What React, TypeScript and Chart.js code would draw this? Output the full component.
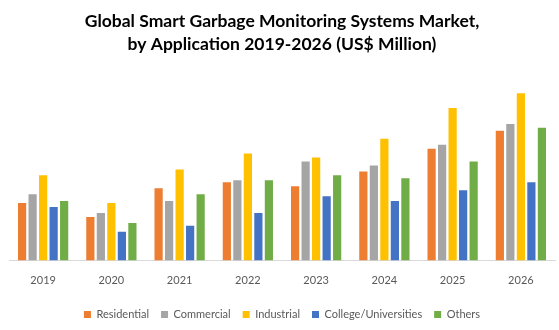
import React, { useEffect, useRef } from "react";
import { Chart, registerables } from "chart.js";

Chart.register(...registerables);

const years = ["2019", "2020", "2021", "2022", "2023", "2024", "2025", "2026"];
const residential = [58, 44, 73, 79, 75, 90, 113, 131];
const commercial = [67, 48, 60, 81, 100, 96, 117, 138];
const industrial = [86, 58, 92, 108, 104, 123, 154, 169];
const college = [54, 29, 35, 48, 65, 60, 71, 79];
const others = [60, 38, 67, 81, 86, 83, 100, 134];

const titleLines = [
  "Global Smart Garbage Monitoring Systems Market,",
  "by Application 2019-2026 (US$ Million)",
];

const FONT = "Lato, 'Liberation Sans', sans-serif";

export default function App() {
  const ref = useRef<HTMLCanvasElement>(null);
  useEffect(() => {
    document.body.style.margin = "0";
    const ctx = ref.current!;
    const chart = new Chart(ctx, {
      type: "bar",
      data: {
        labels: years,
        datasets: [
          { label: "Residential", data: residential, backgroundColor: "#ED7D31" },
          { label: "Commercial", data: commercial, backgroundColor: "#A5A5A5" },
          { label: "Industrial", data: industrial, backgroundColor: "#FFC000" },
          { label: "College/Universities", data: college, backgroundColor: "#4472C4" },
          { label: "Others", data: others, backgroundColor: "#70AD47" },
        ],
      },
      options: {
        animation: false,
        responsive: false,
        maintainAspectRatio: false,
        layout: { padding: { left: 9, right: 4, top: 0, bottom: 0 } },
        datasets: { bar: { categoryPercentage: 0.77, barPercentage: 0.78 } },
        plugins: {
          title: {
            display: true,
            text: titleLines,
            color: "#000",
            font: { family: FONT, size: 17.5, weight: "bold", lineHeight: 1.3 },
            padding: { top: 10, bottom: 8 },
          },
          legend: {
            position: "bottom",
            labels: {
              boxWidth: 7,
              boxHeight: 7,
              padding: 12,
              color: "#595959",
              font: { family: FONT, size: 11 },
            },
          },
          tooltip: { enabled: false },
        },
        scales: {
          x: {
            grid: { display: false },
            border: { display: true, color: "#D9D9D9", width: 1 },
            ticks: { color: "#595959", font: { family: FONT, size: 11 }, padding: 5.5 },
            afterFit: (axis: any) => {
              axis.height += 4.3;
            },
          },
          y: {
            display: false,
            min: 0,
            max: 199,
          },
        },
      },
    });
    return () => chart.destroy();
  }, []);
  return (
    <div style={{ width: 559, height: 330 }}>
      <canvas ref={ref} width={559} height={330} />
    </div>
  );
}
